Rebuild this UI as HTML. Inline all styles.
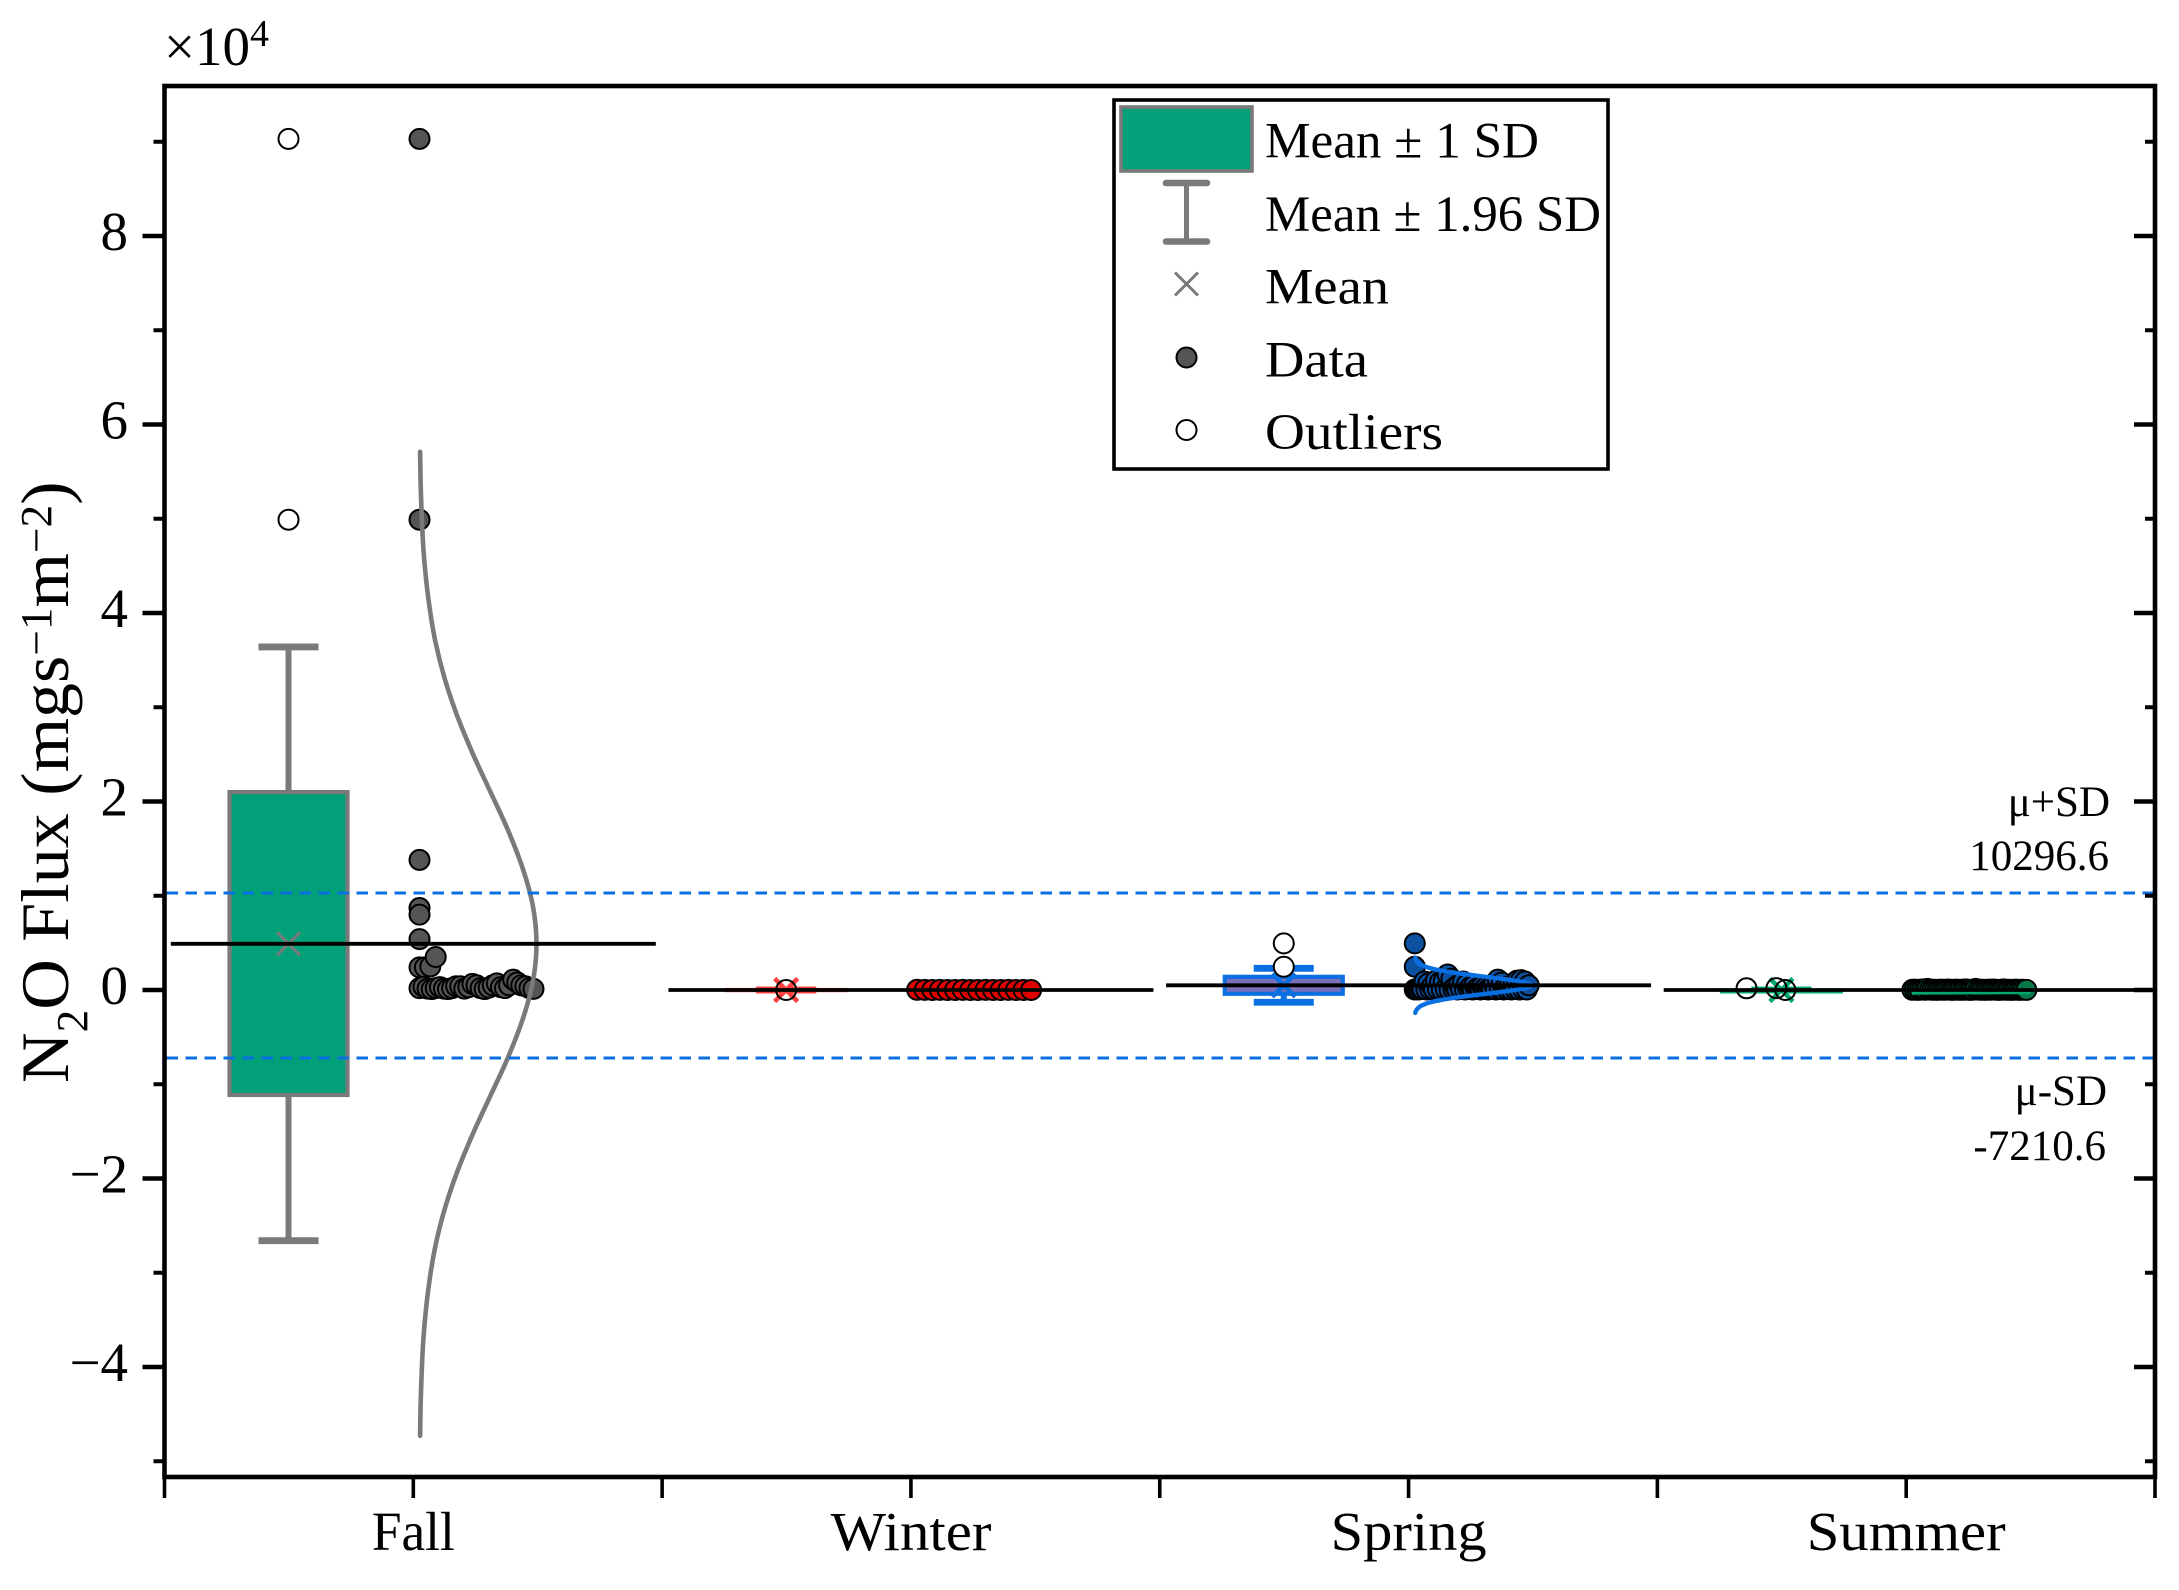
<!DOCTYPE html>
<html lang="en">
<head>
<meta charset="utf-8">
<title>N2O Flux by Season</title>
<style>
html,body{margin:0;padding:0;background:#fff;}
svg{display:block;}
text{font-family:"Liberation Serif",serif;fill:#000;}
</style>
</head>
<body>
<svg id="chart" xmlns="http://www.w3.org/2000/svg" width="2179" height="1590" viewBox="0 0 2179 1590">
  <rect x="0" y="0" width="2179" height="1590" fill="#fff"/>
  <g id="marks"></g>
  <g id="axes"></g>
  <text x="164" y="65" font-size="55">×10<tspan font-size="38" dy="-19">4</tspan></text>
  <text transform="translate(68,1083) rotate(-90) scale(1.03,1)" font-size="68">N<tspan font-size="44" dy="19">2</tspan><tspan dy="-19">O Flux (mgs</tspan><tspan font-size="44" dy="-17">−1</tspan><tspan dy="17">m</tspan><tspan font-size="44" dy="-17">−2</tspan><tspan dy="17">)</tspan></text>
  <g>
    <rect x="1114" y="100" width="494" height="369" fill="#fff" stroke="#000" stroke-width="3.6"/>
    <rect x="1121" y="107" width="131" height="64" fill="#02a078" stroke="#7a7a7a" stroke-width="3.6"/>
    <g stroke="#7a7a7a" stroke-linecap="round">
      <line x1="1186.5" y1="183" x2="1186.5" y2="241" stroke-width="5"/>
      <line x1="1166" y1="183" x2="1207" y2="183" stroke-width="6.6"/>
      <line x1="1166" y1="241.5" x2="1207" y2="241.5" stroke-width="6.6"/>
    </g>
    <g stroke="#7a7a7a" stroke-width="3">
      <line x1="1175" y1="272.5" x2="1198" y2="295.5"/>
      <line x1="1175" y1="295.5" x2="1198" y2="272.5"/>
    </g>
    <circle cx="1186.5" cy="357.5" r="10" fill="#555" stroke="#000" stroke-width="2"/>
    <circle cx="1186.5" cy="430" r="10" fill="#fff" stroke="#000" stroke-width="2"/>
    <text x="1265" y="157.5" font-size="51" textLength="274" lengthAdjust="spacingAndGlyphs">Mean ± 1 SD</text>
    <text x="1265" y="231" font-size="51" textLength="336" lengthAdjust="spacingAndGlyphs">Mean ± 1.96 SD</text>
    <text x="1265" y="303.5" font-size="51" textLength="124" lengthAdjust="spacingAndGlyphs">Mean</text>
    <text x="1265" y="376.5" font-size="51" textLength="103" lengthAdjust="spacingAndGlyphs">Data</text>
    <text x="1265" y="449" font-size="51" textLength="178" lengthAdjust="spacingAndGlyphs">Outliers</text>
  </g>
</svg>
<script>
const seasons = ['Fall', 'Winter', 'Spring', 'Summer'];
const yMajorTicks = [8, 6, 4, 2, 0, -2, -4];
const yTickLabels = ['8', '6', '4', '2', '0', '−2', '−4'];
const yMinorTicks = [9, 7, 5, 3, 1, -1, -3, -5];

const boxTop = [2.10, 0.0, 0.14, -0.02];
const boxBottom = [-1.114, 0.0, -0.04, -0.02];
const whiskerTop = [3.64, 0.0, 0.23, 0.0];
const whiskerBottom = [-2.66, 0.0, -0.13, 0.0];
const seasonMeans = [0.49, 0.0, 0.05, 0.0];

const refPlusSD = 10296.6;
const refMinusSD = -7210.6;
const refLabels = ['μ+SD', 'μ-SD'];

const fallOutliers = [9.03, 4.99];
const winterOutliers = [0.0];
const springOutliers = [0.495, 0.247];
const summerOutliers = [0.018, 0.02, 0.0];
const summerOutlierJitter = [-0.07, -0.01, 0.008];

const fallStacked = [9.03, 4.99, 1.38, 0.87, 0.80, 0.54];
const fallUpperRow = [0.24, 0.24, 0.25, 0.35];
const fallRow = [0.02, 0.035, 0.015, 0.01, 0.02, 0.03, 0.015, 0.01, 0.02, 0.04, 0.04, 0.015, 0.03, 0.065, 0.05, 0.02, 0.01, 0.025, 0.05, 0.07, 0.03, 0.02, 0.05, 0.11, 0.08, 0.05, 0.04, 0.02, 0.012];
const winterRow = [0.002, 0.001, 0.0, 0.001, 0.0, 0.0, 0.001, 0.0, 0.0, 0.001, 0.0, 0.0, 0.001, 0.0, 0.0, 0.0];
const springStacked = [0.495, 0.247];
const springRow = [0.005, 0.01, 0.005, 0.02, 0.01, 0.09, 0.005, 0.07, 0.01, 0.04, 0.005, 0.1, 0.01, 0.08, 0.005, 0.09, 0.01, 0.165, 0.005, 0.12, 0.01, 0.03, 0.005, 0.06, 0.01, 0.09, 0.005, 0.06, 0.01, 0.03, 0.005, 0.05, 0.01, 0.02, 0.005, 0.04, 0.01, 0.03, 0.005, 0.02, 0.01, 0.06, 0.005, 0.11, 0.01, 0.08, 0.005, 0.03, 0.01, 0.04, 0.005, 0.05, 0.01, 0.1, 0.005, 0.105, 0.01, 0.09, 0.005, 0.05];
const summerRow = [0.002, 0.004, 0.001, 0.003, 0.006, 0.002, 0.012, 0.004, 0.002, 0.003, 0.001, 0.004, 0.002, 0.003, 0.005, 0.002, 0.001, 0.004, 0.002, 0.003, 0.002, 0.006, 0.002, 0.001, 0.003, 0.012, 0.004, 0.002, 0.003, 0.001, 0.004, 0.002, 0.005, 0.003, 0.001, 0.002, 0.006, 0.002, 0.003, 0.001, 0.002, 0.004, 0.001, 0.002, 0.003, 0.001];

const curveDensity = [0.005, 0.011, 0.023, 0.044, 0.080, 0.135, 0.216, 0.325, 0.458, 0.607, 0.755, 0.882, 0.969, 1.0, 0.969, 0.882, 0.755, 0.607, 0.458, 0.325, 0.216, 0.135, 0.080, 0.044, 0.023, 0.011, 0.005];
const fallCurveFlux = [5.71, 5.31, 4.91, 4.51, 4.11, 3.70, 3.30, 2.90, 2.50, 2.10, 1.70, 1.29, 0.89, 0.49, 0.09, -0.31, -0.72, -1.12, -1.52, -1.92, -2.32, -2.72, -3.13, -3.53, -3.93, -4.33, -4.73];
const springCurveFlux = [0.343, 0.32, 0.298, 0.275, 0.253, 0.23, 0.208, 0.185, 0.163, 0.14, 0.118, 0.095, 0.073, 0.05, 0.028, 0.005, -0.018, -0.04, -0.063, -0.085, -0.108, -0.13, -0.153, -0.175, -0.198, -0.22, -0.243];
const summerCurveFlux = [-0.022, -0.023, -0.023, -0.024, -0.025, -0.025, -0.026, -0.026, -0.027, -0.027, -0.028, -0.029, -0.029, -0.03, -0.031, -0.031, -0.032, -0.033, -0.033, -0.034, -0.034, -0.035, -0.035, -0.036, -0.037, -0.037, -0.038];
const xLabelWidths = [83, 161, 156, 199];

const SVGNS = 'http://www.w3.org/2000/svg';
const marks = document.getElementById('marks');
const axes = document.getElementById('axes');

const PLOT = { left: 164.5, right: 2155, top: 86, bottom: 1477 };
const yScale = v => 990 - 94.25 * v;
const bandWidth = (PLOT.right - PLOT.left) / seasons.length;
const xCenter = i => PLOT.left + bandWidth * (i + 0.5);
const xBox = i => xCenter(i) - 124.8;
const xData = i => xCenter(i) + 6.2;
const SWARM_SPAN = 114;

const COLORS = [
  { box: '#02a078', line: '#7a7a7a', cross: '#7a7a7a', point: '#555555' },
  { box: 'none', line: '#ff4040', cross: '#ff4040', point: '#e00000' },
  { box: '#7a6fb8', line: '#0a6fe0', cross: '#0a6fe0', point: '#0c50a0' },
  { box: 'none', line: '#00a86b', cross: '#00a86b', point: '#07784a' }
];

function el(tag, attrs, parent) {
  const n = document.createElementNS(SVGNS, tag);
  for (const k in attrs) n.setAttribute(k, attrs[k]);
  parent.appendChild(n);
  return n;
}

/* ---------- box + whiskers + mean cross + outliers ---------- */
seasons.forEach((s, i) => {
  const cx = xBox(i);
  const c = COLORS[i];
  const stem = el('line', { x1: cx, x2: cx, y1: yScale(whiskerTop[i]), y2: yScale(whiskerBottom[i]), stroke: c.line, 'stroke-width': 6 }, marks);
  
  
  [whiskerTop[i], whiskerBottom[i]].forEach(w => {
    const cap = el('line', { x1: cx - 30, x2: cx + 30, y1: yScale(w), y2: yScale(w), stroke: c.line, 'stroke-width': 6.8 }, marks);
    
    
  });
  const halfW = i === 3 ? 60 : 59;
  const box = el('rect', {
    x: cx - halfW, width: halfW * 2,
    y: yScale(boxTop[i]), height: Math.max(0.1, yScale(boxBottom[i]) - yScale(boxTop[i])),
    fill: c.box, stroke: c.line, 'stroke-width': i === 3 ? 3 : 4.2
  }, marks);
  
  
  const mx = cx, my = yScale(seasonMeans[i]);
  const hw = 11.5, lw = i === 0 ? 3 : 4.5;
  [[-1, -1, 1, 1], [-1, 1, 1, -1]].forEach(d => {
    const cross = el('line', { x1: mx + d[0] * hw, y1: my + d[1] * hw, x2: mx + d[2] * hw, y2: my + d[3] * hw, stroke: c.cross, 'stroke-width': lw }, marks);
    
    
  });
});

function drawOutliers(values, i, jitter) {
  values.forEach((v, k) => {
    const off = jitter ? jitter[k] * bandWidth : 0;
    const o = el('circle', { cx: xBox(i) + off, cy: yScale(v), r: 10, fill: i === 1 || i === 3 ? 'none' : '#fff', stroke: '#000', 'stroke-width': 2 }, marks);
    
    
  });
}
drawOutliers(fallOutliers, 0);
drawOutliers(winterOutliers, 1);
drawOutliers(springOutliers, 2);
drawOutliers(summerOutliers, 3, summerOutlierJitter);

/* ---------- data swarm ---------- */
function dataPoint(x, v, i) {
  const p = el('circle', { cx: x, cy: yScale(v), r: 10, fill: COLORS[i].point, stroke: '#000', 'stroke-width': 2 }, marks);
  
  
}
function drawRow(values, i) {
  const step = SWARM_SPAN / (values.length - 1);
  values.forEach((v, k) => dataPoint(xData(i) + k * step, v, i));
}
fallStacked.forEach(v => dataPoint(xData(0), v, 0));
fallUpperRow.forEach((v, k) => dataPoint(xData(0) + k * 5.4, v, 0));
drawRow(fallRow, 0);
drawRow(winterRow, 1);
springStacked.forEach(v => dataPoint(xData(2), v, 2));
drawRow(springRow, 2);
drawRow(summerRow, 3);

/* ---------- distribution curves (smoothed through the samples) ---------- */
function drawCurve(fluxes, i, color, width) {
  const pts = fluxes.map((f, k) => [xData(i) + curveDensity[k] * 117, yScale(f)]);
  let d = 'M' + pts[0][0].toFixed(1) + ' ' + pts[0][1].toFixed(1);
  for (let k = 0; k < pts.length - 1; k++) {
    const p0 = pts[Math.max(0, k - 1)], p1 = pts[k], p2 = pts[k + 1], p3 = pts[Math.min(pts.length - 1, k + 2)];
    const c1x = p1[0] + (p2[0] - p0[0]) / 6, c1y = p1[1] + (p2[1] - p0[1]) / 6;
    const c2x = p2[0] - (p3[0] - p1[0]) / 6, c2y = p2[1] - (p3[1] - p1[1]) / 6;
    d += 'C' + c1x.toFixed(1) + ' ' + c1y.toFixed(1) + ' ' + c2x.toFixed(1) + ' ' + c2y.toFixed(1) + ' ' + p2[0].toFixed(1) + ' ' + p2[1].toFixed(1);
  }
  const path = el('path', { d: d, fill: 'none', stroke: color, 'stroke-width': width, 'stroke-linejoin': 'round', 'stroke-linecap': 'round' }, marks);
  
  
}
drawCurve(fallCurveFlux, 0, '#7a7a7a', 4.6);
drawCurve(springCurveFlux, 2, '#0a6fe0', 4.4);
drawCurve(summerCurveFlux, 3, '#00a86b', 2.6);

/* ---------- reference lines ---------- */
[refPlusSD, refMinusSD].forEach(r => {
  const y = yScale(r / 10000);
  const ref = el('line', { x1: PLOT.left + 2, x2: PLOT.right - 2, y1: y, y2: y, stroke: '#0a6fe0', 'stroke-width': 3, 'stroke-dasharray': '11.5 7.5' }, marks);
  
  
});

/* ---------- mean lines ---------- */
seasonMeans.forEach((m, i) => {
  const cx = xCenter(i);
  const x2 = i === seasons.length - 1 ? PLOT.right : cx + 242.5;
  const ml = el('line', { x1: cx - 242.5, x2: x2, y1: yScale(m), y2: yScale(m), stroke: '#000', 'stroke-width': 3.8 }, marks);
  
  
});

/* ---------- reference annotations ---------- */
const annPlusName = el('text', { x: 2110, y: 816, 'font-size': 43, 'text-anchor': 'end' }, marks);
annPlusName.textContent = refLabels[0];


const annPlusVal = el('text', { x: 2109, y: 870, 'font-size': 43, 'text-anchor': 'end' }, marks);
annPlusVal.textContent = refPlusSD.toFixed(1);


const annMinusName = el('text', { x: 2107, y: 1105, 'font-size': 43, 'text-anchor': 'end' }, marks);
annMinusName.textContent = refLabels[1];


const annMinusVal = el('text', { x: 2106, y: 1160, 'font-size': 43, 'text-anchor': 'end' }, marks);
annMinusVal.textContent = refMinusSD.toFixed(1);



/* ---------- axes ---------- */
const frame = el('rect', { x: PLOT.left, y: PLOT.top, width: PLOT.right - PLOT.left, height: PLOT.bottom - PLOT.top, fill: 'none', stroke: '#000', 'stroke-width': 4.6 }, axes);



yMajorTicks.forEach((v, k) => {
  const y = yScale(v);
  const t = el('line', { x1: PLOT.left - 22, x2: PLOT.left, y1: y, y2: y, stroke: '#000', 'stroke-width': 4.6 }, axes);
  
  
  const tr = el('line', { x1: PLOT.right - 21, x2: PLOT.right, y1: y, y2: y, stroke: '#000', 'stroke-width': 4.6 }, axes);
  
  
  const lab = el('text', { x: 128, y: y + 14, 'font-size': 55, 'text-anchor': 'end' }, axes);
  lab.textContent = yTickLabels[k];
  
  
});
yMinorTicks.forEach(v => {
  const y = yScale(v);
  const t = el('line', { x1: PLOT.left - 11, x2: PLOT.left, y1: y, y2: y, stroke: '#000', 'stroke-width': 4 }, axes);
  
  
  const tr = el('line', { x1: PLOT.right - 10, x2: PLOT.right, y1: y, y2: y, stroke: '#000', 'stroke-width': 4 }, axes);
  
  
});
seasons.forEach((s, i) => {
  const t = el('line', { x1: xCenter(i), x2: xCenter(i), y1: PLOT.bottom, y2: PLOT.bottom + 21, stroke: '#000', 'stroke-width': 3.6 }, axes);
  
  
  const lab = el('text', { x: xCenter(i) - xLabelWidths[i] / 2, y: 1550, 'font-size': 55, textLength: xLabelWidths[i], lengthAdjust: 'spacingAndGlyphs' }, axes);
  lab.textContent = s;
  
  
});
for (let b = 0; b <= seasons.length; b++) {
  const x = PLOT.left + b * bandWidth;
  const t = el('line', { x1: x, x2: x, y1: PLOT.bottom, y2: PLOT.bottom + 21, stroke: '#000', 'stroke-width': 3.6 }, axes);
  
  
}
</script>
</body>
</html>
